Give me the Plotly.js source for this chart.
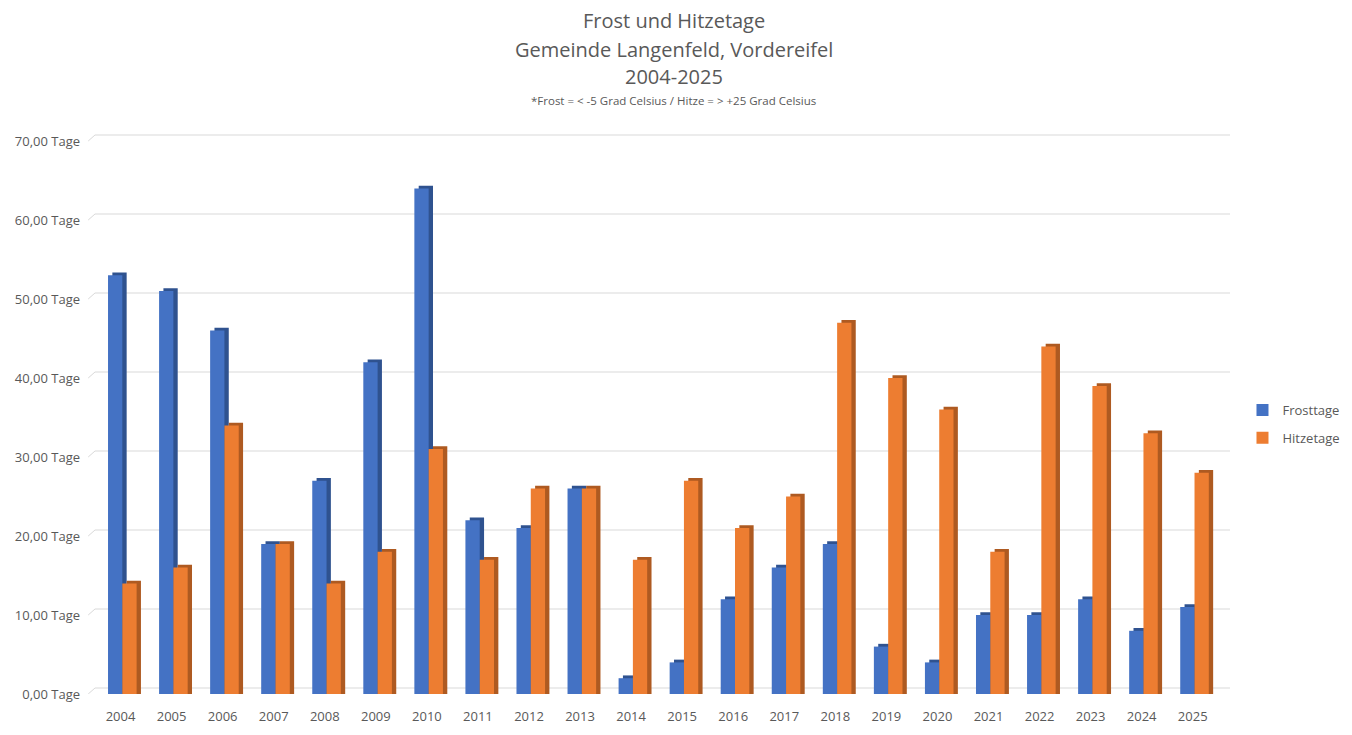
<!DOCTYPE html>
<html><head><meta charset="utf-8">
<script src="https://cdn.plot.ly/plotly-3.0.1.min.js"></script>
<style>html,body{margin:0;padding:0;background:#fff}#chart{width:1352px;height:735px}</style>
</head><body><div id="chart"></div>
<script>
const years = ['2004','2005','2006','2007','2008','2009','2010','2011','2012','2013','2014','2015','2016','2017','2018','2019','2020','2021','2022','2023','2024','2025'];
const frosttage = [53,51,46,19,27,42,64,22,21,26,2,4,12,16,19,6,4,10,10,12,8,11];
const hitzetage = [14,16,34,19,14,18,31,17,26,26,17,27,21,25,47,40,36,18,44,39,33,28];
const yTicks = [0,10,20,30,40,50,60,70];
const yTickText = yTicks.map(v => v.toFixed(2).replace('.', ',') + ' Tage');

const DEPTH_Y = 0.35;  // 3D depth in value units (style)
const DEPTH_X = 0.085; // 3D depth in category units (style)
const W = 0.28;
const OFF_B = -0.245, OFF_O = 0.035;
const xs = years.map((_, i) => i);

function bar(name, vals, off, color, show, group, shadow) {
  return {
    type: 'bar', x: xs, y: shadow ? vals.map(v => v + DEPTH_Y) : vals,
    offset: shadow ? off + DEPTH_X : off, width: W,
    marker: {color: color, line: {width: 0}},
    name: name, showlegend: show, legendgroup: group, hoverinfo: 'skip'
  };
}
const traces = [
  bar('Frosttage', frosttage, OFF_B, '#2F528F', false, 'a', true),
  bar('Frosttage', frosttage, OFF_B, '#4472C4', true, 'a', false),
  bar('Hitzetage', hitzetage, OFF_O, '#AE5A21', false, 'b', true),
  bar('Hitzetage', hitzetage, OFF_O, '#ED7D31', true, 'b', false)
];

const shapes = [];
yTicks.forEach(v => {
  shapes.push({type:'line', xref:'paper', yref:'y', x0:0, x1:1, y0:v+0.76, y1:v+0.76, line:{color:'#D9D9D9', width:1}, layer:'below'});
  shapes.push({type:'line', xref:'paper', yref:'y', x0:-0.006, x1:0, y0:v, y1:v+0.76, line:{color:'#D9D9D9', width:1}, layer:'below'});
});

const txt = '#595959';
const F = 'Open Sans, Liberation Sans, sans-serif';
const XS = 11;
const layout = {
  width: 1352, height: 735,
  margin: {l: 95, r: 122, t: 134, b: 41, autoexpand: false},
  paper_bgcolor: '#fff', plot_bgcolor: '#fff',
  barmode: 'overlay',
  font: {family: F, color: txt, size: 13},
  xaxis: {
    type: 'linear', range: [-0.5, 21.73], tickmode: 'array', tickvals: xs, ticktext: years,
    showgrid: false, zeroline: false, showline: false, ticks: '',
    tickfont: {size: 13, color: txt}, ticklabelstandoff: 13, fixedrange: true, automargin: false
  },
  yaxis: {
    range: [0, 70.886], tickmode: 'array', tickvals: yTicks, ticktext: yTickText,
    showgrid: false, zeroline: false, showline: false, ticks: '',
    tickfont: {size: 13, color: txt}, ticklabelstandoff: 14, fixedrange: true, automargin: false
  },
  shapes: shapes,
  legend: {
    xref: 'container', yref: 'container',
    x: 0.919, y: 1 - 424/735, xanchor: 'left', yanchor: 'middle',
    font: {size: 13, color: txt}, tracegroupgap: 8, traceorder: 'grouped',
    itemwidth: 30, bgcolor: 'rgba(0,0,0,0)'
  },
  annotations: [
    {text: 'Frost und Hitzetage', xref:'paper', yref:'paper', x: 0.5, y: 1, xanchor:'center', yanchor:'middle', showarrow:false, font:{size:20, color:txt, family:F}, xshift: XS, yshift: 114},
    {text: 'Gemeinde Langenfeld, Vordereifel', xref:'paper', yref:'paper', x: 0.5, y: 1, xanchor:'center', yanchor:'middle', showarrow:false, font:{size:20, color:txt, family:F}, xshift: XS, yshift: 85},
    {text: '2004-2025', xref:'paper', yref:'paper', x: 0.5, y: 1, xanchor:'center', yanchor:'middle', showarrow:false, font:{size:20, color:txt, family:F}, xshift: XS, yshift: 58},
    {text: '*Frost = < -5 Grad Celsius / Hitze = > +25 Grad Celsius', xref:'paper', yref:'paper', x: 0.5, y: 1, xanchor:'center', yanchor:'middle', showarrow:false, font:{size:11.5, color:txt, family:F}, xshift: XS, yshift: 34}
  ]
};
Plotly.newPlot('chart', traces, layout, {displayModeBar: false, staticPlot: true});
</script></body></html>
